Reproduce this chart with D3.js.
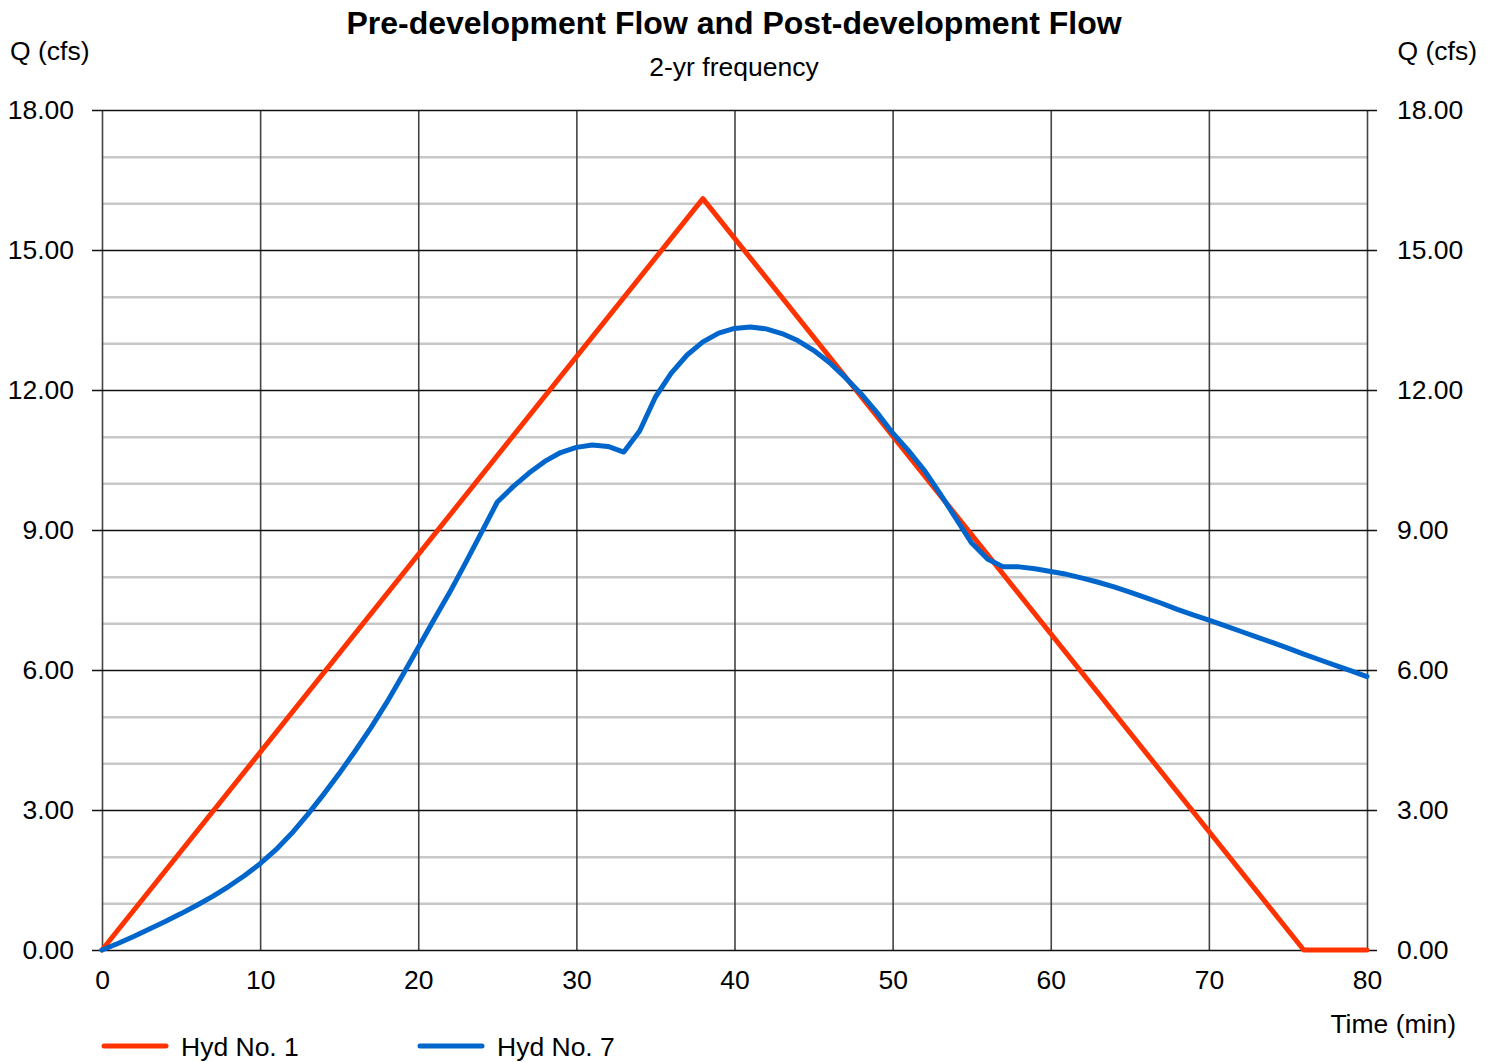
<!DOCTYPE html>
<html>
<head>
<meta charset="utf-8">
<script src="https://cdn.jsdelivr.net/npm/d3@7"></script>
<style>
  html, body { margin: 0; padding: 0; background: #fff; }
  svg { display: block; font-family: "Liberation Sans", Arial, sans-serif; }
</style>
</head>
<body>
<svg id="chart" width="1496" height="1062"></svg>
<script>
// Hydrograph data: time (min) vs flow Q (cfs)
const hyd1Time = [0, 38, 76, 80];
const hyd1Flow = [0, 16.10, 0, 0];

const hyd7Time = [0, 1, 2, 3, 4, 5, 6, 7, 8, 9, 10, 11, 12, 13, 14, 15, 16, 17, 18, 19, 20,
  21, 22, 23, 24, 25, 26, 27, 28, 29, 30, 31, 32, 33, 34, 35, 36, 37, 38, 39, 40,
  41, 42, 43, 44, 45, 46, 47, 48, 49, 50, 51, 52, 53, 54, 55, 56, 57, 58, 59, 60,
  61, 62, 63, 64, 65, 66, 67, 68, 69, 70, 71, 72, 73, 74, 75, 76, 77, 78, 79, 80];
const hyd7Flow = [0, 0.14, 0.29, 0.45, 0.61, 0.78, 0.96, 1.15, 1.36, 1.59, 1.85,
  2.15, 2.50, 2.90, 3.33, 3.78, 4.26, 4.76, 5.30, 5.88, 6.48,
  7.08, 7.67, 8.30, 8.95, 9.60, 9.93, 10.22, 10.47, 10.66, 10.77,
  10.82, 10.79, 10.67, 11.12, 11.85, 12.36, 12.75, 13.03, 13.22, 13.32,
  13.35, 13.31, 13.21, 13.06, 12.85, 12.59, 12.27, 11.92, 11.52, 11.08,
  10.70, 10.28, 9.78, 9.25, 8.72, 8.38, 8.21, 8.21, 8.17, 8.11,
  8.05, 7.97, 7.88, 7.78, 7.67, 7.55, 7.43, 7.30, 7.18, 7.07,
  6.95, 6.83, 6.71, 6.59, 6.47, 6.34, 6.22, 6.10, 5.98, 5.86];

const xTicks = [0, 10, 20, 30, 40, 50, 60, 70, 80];
const yMajorTicks = [0, 3, 6, 9, 12, 15, 18];
const yMinorTicks = [1, 2, 4, 5, 7, 8, 10, 11, 13, 14, 16, 17];

const seriesNames = ["Hyd No. 1", "Hyd No. 7"];
const seriesColors = ["#ff3300", "#0066cc"];

const svg = d3.select("#chart");
const plotLeft = 102, plotRight = 1367, plotTop = 110, plotBottom = 950;
const FONT = "Liberation Sans, Arial, sans-serif";
const LABEL_SIZE = 26.5;

const x = d3.scaleLinear().domain([0, 80]).range([plotLeft, plotRight]);
const y = d3.scaleLinear().domain([0, 18]).range([plotBottom, plotTop]);

// Minor horizontal grid
svg.append("g")
  .attr("transform", `translate(${plotLeft},0)`)
  .call(d3.axisRight(y).tickValues(yMinorTicks).tickSize(plotRight - plotLeft).tickFormat(""))
  .call(g => g.select(".domain").remove())
  .call(g => g.selectAll("line").attr("stroke", "#c8c8c8").attr("stroke-width", 2.5));

// Vertical grid
svg.append("g")
  .attr("transform", `translate(0,${plotBottom})`)
  .call(d3.axisTop(x).tickValues(xTicks).tickSize(plotBottom - plotTop).tickFormat(""))
  .call(g => g.select(".domain").remove())
  .call(g => g.selectAll("line").attr("stroke", "#444").attr("stroke-width", 1.6));

// Major horizontal grid with outer ticks on both sides
svg.append("g")
  .attr("transform", `translate(${plotLeft - 10},0)`)
  .call(d3.axisRight(y).tickValues(yMajorTicks).tickSize(plotRight - plotLeft + 20).tickFormat(""))
  .call(g => g.select(".domain").remove())
  .call(g => g.selectAll("line").attr("stroke", "#111").attr("stroke-width", 1.6));

// Left tick labels
svg.append("g")
  .attr("transform", `translate(${plotLeft - 10},0)`)
  .call(d3.axisLeft(y).tickValues(yMajorTicks).tickSize(0).tickPadding(18).tickFormat(d3.format(".2f")))
  .call(g => g.select(".domain").remove())
  .call(g => g.selectAll("text").attr("font-size", LABEL_SIZE).attr("fill", "#000").attr("font-family", FONT));

// Right tick labels
svg.append("g")
  .attr("transform", `translate(${plotRight + 10},0)`)
  .call(d3.axisRight(y).tickValues(yMajorTicks).tickSize(0).tickPadding(20).tickFormat(d3.format(".2f")))
  .call(g => g.select(".domain").remove())
  .call(g => g.selectAll("text").attr("font-size", LABEL_SIZE).attr("fill", "#000").attr("font-family", FONT));

// Bottom tick labels
svg.append("g")
  .attr("transform", `translate(0,${plotBottom})`)
  .call(d3.axisBottom(x).tickValues(xTicks).tickSize(0).tickPadding(20).tickFormat(d3.format("d")))
  .call(g => g.select(".domain").remove())
  .call(g => g.selectAll("text").attr("font-size", LABEL_SIZE).attr("fill", "#000").attr("font-family", FONT));

// Series lines
const line = d3.line().x(d => x(d[0])).y(d => y(d[1]));
const hyd1 = hyd1Time.map((t, i) => [t, hyd1Flow[i]]);
const hyd7 = hyd7Time.map((t, i) => [t, hyd7Flow[i]]);

[hyd1, hyd7].forEach((pts, i) => {
  svg.append("path")
    .datum(pts)
    .attr("d", line)
    .attr("fill", "none")
    .attr("stroke", seriesColors[i])
    .attr("stroke-width", 5)
    .attr("stroke-linejoin", "round")
    .attr("stroke-linecap", "round");
});

// Titles and axis captions
svg.append("text").attr("x", 734).attr("y", 34).attr("text-anchor", "middle")
  .attr("font-size", 32).attr("font-weight", "bold").text("Pre-development Flow and Post-development Flow");
svg.append("text").attr("x", 734).attr("y", 76).attr("text-anchor", "middle")
  .attr("font-size", LABEL_SIZE).text("2-yr frequency");
svg.append("text").attr("x", 10).attr("y", 60).attr("font-size", LABEL_SIZE).text("Q (cfs)");
svg.append("text").attr("x", 1477).attr("y", 60).attr("text-anchor", "end")
  .attr("font-size", LABEL_SIZE).text("Q (cfs)");
svg.append("text").attr("x", 1456).attr("y", 1033).attr("text-anchor", "end")
  .attr("font-size", LABEL_SIZE).text("Time (min)");

// Legend
const legendX = [102, 418];
seriesNames.forEach((name, i) => {
  const g = svg.append("g").attr("transform", `translate(${legendX[i]},1046)`);
  g.append("line").attr("x1", 2).attr("x2", 64).attr("y1", 0).attr("y2", 0)
    .attr("stroke", seriesColors[i]).attr("stroke-width", 5).attr("stroke-linecap", "round");
  g.append("text").attr("x", 79).attr("y", 10).attr("font-size", LABEL_SIZE).text(name);
});
</script>
</body>
</html>
